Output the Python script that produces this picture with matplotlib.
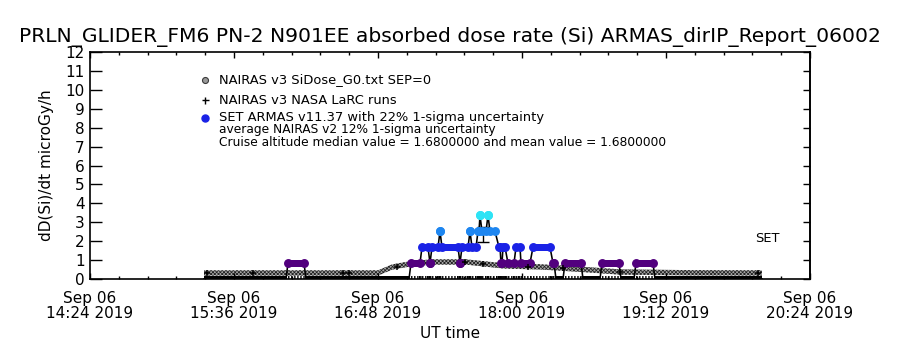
import matplotlib
matplotlib.use('Agg')
import matplotlib.pyplot as plt
import numpy as np

plt.rcParams['font.family'] = ['DejaVu Sans']
plt.rcParams['lines.scale_dashes'] = False
plt.rcParams['hatch.linewidth'] = 0.55

# ---------------- data ----------------
# time axis in minutes after Sep 06 2019 14:24 UT
x_tick_minutes = [0, 72, 144, 216, 288, 360]
x_tick_labels = ['Sep 06\n14:24 2019', 'Sep 06\n15:36 2019', 'Sep 06\n16:48 2019',
                 'Sep 06\n18:00 2019', 'Sep 06\n19:12 2019', 'Sep 06\n20:24 2019']
y_ticks = list(range(0, 13))
y_tick_labels = [str(v) for v in y_ticks]

# NAIRAS v3 SiDose_G0 (microGy/h)
nairas_t = [57, 100, 144, 151, 160, 171, 188, 197, 207, 225, 235, 250, 265, 300, 336]
nairas_v = [0.32, 0.32, 0.32, 0.63, 0.80, 0.90, 0.90, 0.80, 0.69, 0.64, 0.58, 0.48, 0.37, 0.33, 0.32]
nairas_halfwidth = 0.14

# NAIRAS v3 NASA LaRC runs
larc_t = [58.5, 81.5, 126.5, 129.5, 153.5, 187.5, 196.5, 219, 236.5, 265, 334]
larc_v = [0.32, 0.32, 0.32, 0.32, 0.63, 0.90, 0.80, 0.64, 0.56, 0.37, 0.32]

# SET ARMAS v11.37 dose-rate segments (start, end, value)
armas_t0 = [57, 99, 108, 160.5, 166, 170, 171, 175, 176, 185, 186, 190, 191, 194, 195, 196, 199, 200,
            204.5, 205.5, 206.5, 209, 213, 215.5, 221.5, 231.5, 233, 237.5, 246.5, 256, 265.5, 273, 282.5]
armas_t1 = [98, 107, 159.5, 165, 169, 170, 174, 175, 184, 185, 189, 190, 193, 194.5, 195, 198, 199, 202.5,
            205, 206, 207.5, 212, 215, 220, 230, 232, 236.5, 245.5, 255, 264.5, 272, 281.5, 336]
armas_v = [0, 0.84, 0, 0.84, 1.68, 0.84, 1.68, 2.52, 1.68, 0.84, 1.68, 2.52, 1.68, 2.52, 3.36, 2.52, 3.36, 2.52,
           1.68, 0.84, 1.68, 0.84, 1.68, 0.84, 1.68, 0.84, 0, 0.84, 0, 0.84, 0, 0.84, 0]
armas_levels = [0.84, 1.68, 2.52, 3.36]

# uncertainty bar
err_t = 196.5
err_lo = 1.96
err_hi = 2.75

# ---------------- style ----------------
level_colors = ['#52007e', '#1a22e6', '#1e86f0', '#2ee3f5']
px = 72.0 / 100.0  # points per pixel

fig = plt.figure(figsize=(9, 3.5), dpi=100)
ax = fig.add_axes([90 / 900, 71 / 350, 720 / 900, 227 / 350])
ax.set_xlim(0, 360)
ax.set_ylim(0, 12)

# NAIRAS band
nt = np.array(nairas_t, dtype=float)
nv = np.array(nairas_v, dtype=float)
ax.fill_between(nt, nv - nairas_halfwidth, nv + nairas_halfwidth, facecolor='#a6a6a6',
                edgecolor='#222222', hatch='x' * 9, linewidth=0, zorder=1)

# ARMAS bottom (zero) line and dotted pattern under non-zero segments
for t0, t1, v in zip(armas_t0, armas_t1, armas_v):
    if v == 0:
        ax.plot([t0, t1], [0, 0], color='black', lw=6 * px, solid_capstyle='butt', zorder=2)
    else:
        ax.plot([t0 - 1.5, t1 + 1.5], [0, 0], color='black', lw=6 * px,
                linestyle=(0, (1.0, 1.2)), zorder=2)

# ARMAS connecting line
conn_t = []
conn_v = []
for t0, t1, v in zip(armas_t0, armas_t1, armas_v):
    conn_t += [t0, t1]
    conn_v += [v, v]
ax.plot(conn_t, conn_v, color='black', lw=1.6 * px, zorder=3)

# uncertainty bar
ax.errorbar([err_t], [(err_lo + err_hi) / 2], yerr=[[(err_hi - err_lo) / 2], [(err_hi - err_lo) / 2]],
            fmt='none', ecolor='black', elinewidth=1.4 * px, capsize=4.5, capthick=1.4 * px, zorder=3)

# ARMAS coloured markers
for t0, t1, v in zip(armas_t0, armas_t1, armas_v):
    if v == 0:
        continue
    c = level_colors[armas_levels.index(v)]
    ax.plot([t0, t1], [v, v], color=c, lw=7 * px, solid_capstyle='round',
            marker='o', ms=7.5 * px, mec=c, mfc=c, zorder=4)

# LaRC markers
ax.plot(larc_t, larc_v, linestyle='none', marker='+', color='black', ms=6 * px, mew=1.5 * px, zorder=5)

# axes
ax.set_xticks(x_tick_minutes)
ax.set_xticklabels(x_tick_labels, fontsize=11)
for lbl in ax.get_xticklabels():
    lbl.set_linespacing(1.0)
ax.set_xticks(np.arange(0, 360.1, 14.4), minor=True)
ax.set_yticks(y_ticks)
ax.set_yticklabels(y_tick_labels, fontsize=11)
ax.tick_params(axis='x', which='major', direction='in', length=4, width=1, top=True, pad=8.5)
ax.tick_params(axis='x', which='minor', direction='in', length=2.5, width=1, top=True)
ax.tick_params(axis='y', which='major', direction='in', length=8.6, width=1, pad=4)
sec = ax.secondary_yaxis('right')
sec.set_yticks(y_ticks)
sec.set_yticklabels([])
sec.tick_params(direction='in', length=5, width=1)
sec.spines['right'].set_linewidth(1.2)
for s in ax.spines.values():
    s.set_linewidth(1.2)

ax.set_xlabel('UT time', fontsize=11, labelpad=4)
ax.set_ylabel('dD(Si)/dt microGy/h', fontsize=11, labelpad=8)

fig.text(0.5, 1 - 37 / 350, 'PRLN_GLIDER_FM6 PN-2 N901EE absorbed dose rate (Si) ARMAS_dirIP_Report_06002',
         ha='center', va='center', fontsize=14.6)


def afx(xp):
    return (xp - 90) / 720.0


def afy(yp):
    return (279 - yp) / 227.0


# legend
ax.plot([afx(205)], [afy(80)], transform=ax.transAxes, clip_on=False, marker='o', ms=6 * px,
        mfc='#9a9a9a', mec='#3a3a3a', mew=0.8, linestyle='none')
ax.plot([afx(205)], [afy(100)], transform=ax.transAxes, clip_on=False, marker='+', ms=7 * px,
        color='black', mew=1.4 * px, linestyle='none')
ax.plot([afx(205)], [afy(118)], transform=ax.transAxes, clip_on=False, marker='o', ms=7 * px,
        color='#1a22e6', linestyle='none')
leg_txt = ['NAIRAS v3 SiDose_G0.txt SEP=0', 'NAIRAS v3 NASA LaRC runs',
           'SET ARMAS v11.37 with 22% 1-sigma uncertainty',
           'average NAIRAS v2 12% 1-sigma uncertainty',
           'Cruise altitude median value = 1.6800000 and mean value = 1.6800000']
leg_y = [80, 100, 118, 130, 143]
leg_fs = [9.4, 9.4, 9.4, 8.8, 8.8]
for s, yp, fs in zip(leg_txt, leg_y, leg_fs):
    ax.text(afx(219), afy(yp), s, transform=ax.transAxes, fontsize=fs, ha='left', va='center')

ax.text(afx(767), afy(238), 'SET', transform=ax.transAxes, fontsize=9.4, ha='center', va='center')

fig.savefig('out.png', dpi=100)
